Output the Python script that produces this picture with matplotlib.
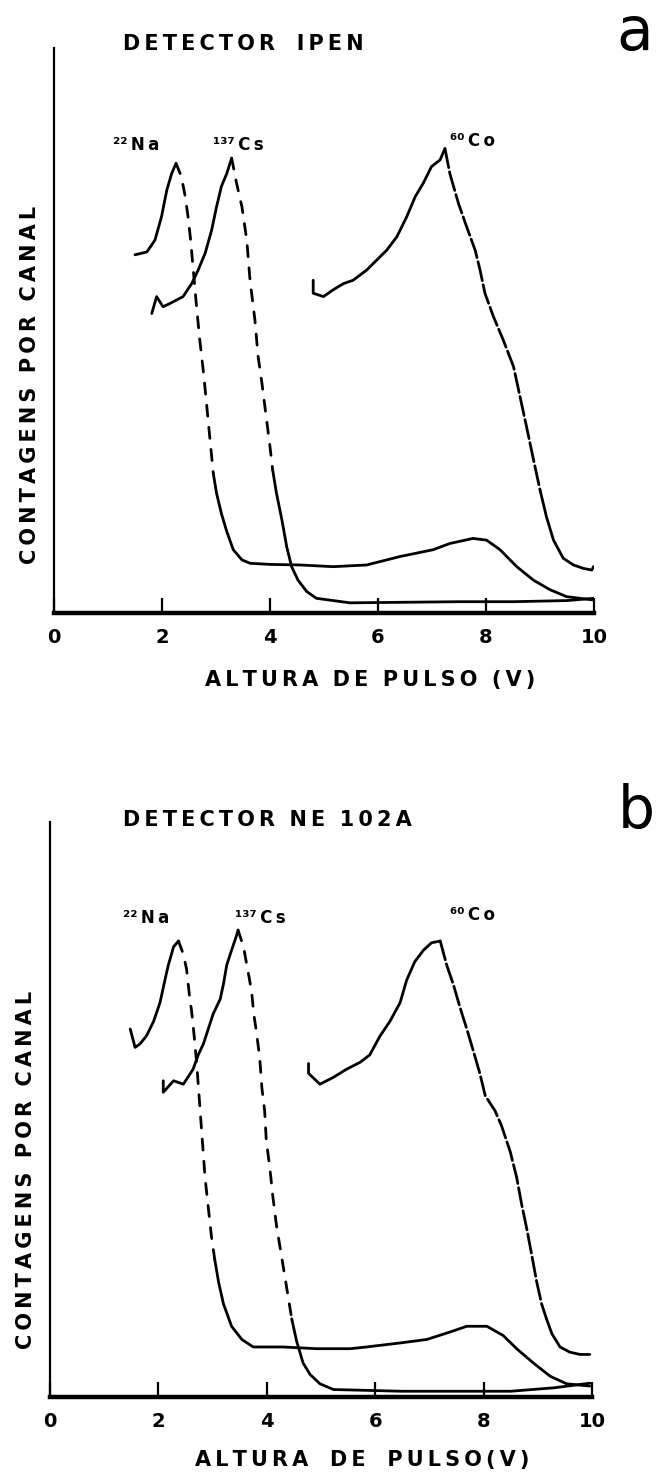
import numpy as np
import matplotlib
matplotlib.use('Agg')
import matplotlib.pyplot as plt

# ---- panel a : DETECTOR IPEN ----
na_a_x = [1.50, 1.72, 1.87, 1.99, 2.09, 2.18, 2.26, 2.36, 2.43, 2.49, 2.53, 2.64, 2.70, 2.77, 2.83,
          2.89, 2.95, 3.01, 3.10, 3.20, 3.32, 3.48, 3.63, 4.00, 4.56, 5.17, 5.79, 6.41, 7.02, 7.33,
          7.76, 8.01, 8.26, 8.57, 8.88, 9.19, 9.49, 9.99]
na_a_y = [63.4, 63.9, 66.0, 70.1, 74.9, 77.8, 79.6, 77.2, 73.7, 69.6, 66.0, 54.2, 48.3, 42.4, 36.5,
          30.6, 24.7, 21.2, 17.6, 14.4, 11.2, 9.4, 8.8, 8.6, 8.5, 8.2, 8.5, 10.0, 11.2, 12.3,
          13.2, 12.9, 11.2, 8.2, 5.8, 4.1, 2.9, 2.3]

cs_a_x = [1.81, 1.90, 2.02, 2.15, 2.27, 2.39, 2.55, 2.67, 2.80, 2.92, 3.01, 3.10, 3.20, 3.29, 3.38,
          3.48, 3.57, 3.63, 3.72, 3.78, 3.85, 3.93, 4.00, 4.05, 4.12, 4.22, 4.31, 4.40, 4.52, 4.68,
          4.86, 5.48, 6.5, 7.5, 8.5, 9.5, 9.99]
cs_a_y = [53.0, 56.0, 54.2, 54.8, 55.4, 56.0, 58.3, 60.7, 63.7, 67.8, 71.9, 75.5, 77.8, 80.5, 76.1,
          71.9, 66.0, 58.9, 51.9, 45.4, 40.7, 34.7, 29.4, 25.3, 21.2, 16.5, 11.7, 8.2, 5.8, 3.8,
          2.6, 1.8, 1.9, 2.0, 2.0, 2.2, 2.6]

co_a_x = [4.80, 4.80, 4.99, 5.17, 5.36, 5.54, 5.79, 5.98, 6.16, 6.35, 6.53, 6.69, 6.84, 6.99, 7.15,
          7.24, 7.33, 7.49, 7.64, 7.80, 7.89, 7.98, 8.14, 8.32, 8.51, 8.63, 8.75, 8.88, 9.00, 9.12,
          9.25, 9.43, 9.62, 9.80, 9.96, 9.99]
co_a_y = [58.9, 56.6, 56.0, 57.2, 58.3, 58.9, 60.7, 62.5, 64.2, 66.6, 70.1, 73.7, 76.1, 79.0, 80.2,
          82.2, 77.8, 72.5, 68.4, 64.2, 60.7, 56.6, 52.4, 48.3, 43.6, 38.3, 33.0, 27.1, 21.8, 17.0,
          12.9, 9.7, 8.5, 7.9, 7.6, 8.2]

# ---- panel b : DETECTOR NE102A ----
na_b_x = [1.48, 1.57, 1.66, 1.78, 1.91, 2.03, 2.12, 2.18, 2.28, 2.37, 2.46, 2.52, 2.58, 2.61, 2.66,
          2.71, 2.74, 2.77, 2.81, 2.86, 2.92, 2.98, 3.04, 3.11, 3.20, 3.35, 3.54, 3.75, 4.30, 4.92,
          5.54, 5.84, 6.46, 6.95, 7.38, 7.69, 8.06, 8.36, 8.61, 8.92, 9.23, 9.53, 9.96]
na_b_y = [64.0, 60.8, 61.4, 62.8, 65.3, 68.6, 72.5, 75.0, 78.3, 79.3, 77.0, 74.4, 69.2, 67.3, 62.8,
          57.6, 53.7, 49.8, 44.7, 38.2, 33.0, 27.8, 23.9, 20.0, 16.2, 12.3, 10.0, 8.7, 8.7, 8.4,
          8.4, 8.7, 9.4, 10.0, 11.3, 12.3, 12.3, 10.7, 8.4, 5.9, 3.6, 2.3, 1.9]

cs_b_x = [2.09, 2.09, 2.28, 2.46, 2.64, 2.74, 2.83, 2.92, 3.01, 3.14, 3.20, 3.26, 3.35, 3.44, 3.47,
          3.57, 3.66, 3.72, 3.76, 3.81, 3.87, 3.91, 3.96, 3.99, 4.06, 4.11, 4.18, 4.27, 4.37, 4.46,
          4.55, 4.67, 4.80, 4.98, 5.23, 6.5, 7.5, 8.5, 9.3, 9.96]
cs_b_y = [55.0, 53.0, 55.0, 54.4, 57.0, 59.6, 61.4, 64.0, 66.6, 69.2, 71.8, 75.1, 77.7, 80.2, 81.2,
          78.3, 73.7, 70.5, 66.6, 63.4, 58.9, 53.7, 49.8, 44.7, 39.5, 35.0, 29.7, 24.6, 18.8, 13.6,
          9.7, 5.9, 3.9, 2.3, 1.3, 1.0, 1.0, 1.0, 1.6, 2.4]

co_b_x = [4.77, 4.77, 4.98, 5.23, 5.47, 5.72, 5.90, 6.09, 6.27, 6.46, 6.58, 6.73, 6.89, 7.04, 7.20,
          7.32, 7.44, 7.56, 7.69, 7.81, 7.93, 8.03, 8.21, 8.33, 8.49, 8.61, 8.70, 8.80, 8.89, 8.98,
          9.07, 9.16, 9.26, 9.41, 9.59, 9.78, 9.96]
co_b_y = [58.0, 56.3, 54.4, 55.6, 57.0, 58.2, 59.5, 62.8, 65.3, 68.6, 72.5, 75.7, 77.7, 79.0, 79.3,
          75.1, 71.8, 67.9, 64.0, 60.2, 56.3, 52.4, 49.8, 47.2, 42.7, 38.2, 33.6, 29.1, 24.6, 20.0,
          16.2, 13.6, 11.0, 8.7, 7.8, 7.4, 7.4]

x_ticks = [0, 2, 4, 6, 8, 10]
x_tick_labels = ['0', '2', '4', '6', '8', '10']
source_mass = ['²²', '¹³⁷', '⁶⁰']
source_elem = ['Na', 'Cs', 'Co']

FONT = dict(family='DejaVu Sans', fontweight='bold', color='black')
THIN = '\u2009'


def spaced(s, word_gap='   '):
    # the hand lettering is widely spaced: thin space between letters, wide gap between words
    words = s.split(' ')
    return word_gap.join(THIN.join(w) for w in words)


def draw_trace(ax, xs, ys, lo, hi, dash):
    """solid recorder trace, with the fast (steep) part drawn broken"""
    xs = np.asarray(xs)
    ys = np.asarray(ys)
    i0 = int(np.argmax(xs >= lo))
    i1 = int(np.argmax(xs >= hi))
    kw = dict(color='black', lw=2.0, solid_capstyle='round', dash_capstyle='round')
    ax.plot(xs[:i0 + 1], ys[:i0 + 1], **kw)
    ax.plot(xs[i0:i1 + 1], ys[i0:i1 + 1], dashes=dash, **kw)
    ax.plot(xs[i1:], ys[i1:], **kw)


def style_axes(ax):
    ax.set_xlim(0, 10)
    ax.set_ylim(0, 100)
    for s in ['top', 'right']:
        ax.spines[s].set_visible(False)
    ax.spines['left'].set_linewidth(1.6)
    ax.spines['bottom'].set_linewidth(3.2)
    ax.spines['left'].set_capstyle('projecting')
    ax.set_xticks(x_ticks)
    ax.set_xticklabels(x_tick_labels)
    ax.tick_params(axis='x', direction='in', length=11, width=1.6, pad=11,
                   labelsize=14)
    for lab in ax.get_xticklabels():
        lab.set_fontweight('bold')
    ax.set_yticks([])
    ax.patch.set_alpha(0)


fig = plt.figure(figsize=(6.57, 14.78), dpi=100)

ax_a = fig.add_axes([54 / 657, 1 - 613 / 1478, 540 / 657, 565 / 1478])
ax_b = fig.add_axes([50 / 657, 1 - 1397 / 1478, 542 / 657, 575 / 1478])

draw_trace(ax_a, na_a_x, na_a_y, 2.26, 2.95, (4, 4))
draw_trace(ax_a, cs_a_x, cs_a_y, 3.29, 4.05, (4, 4))
draw_trace(ax_a, co_a_x, co_a_y, 7.24, 9.0, (7, 1.5))

draw_trace(ax_b, na_b_x, na_b_y, 2.37, 3.04, (4, 4))
draw_trace(ax_b, cs_b_x, cs_b_y, 3.47, 4.46, (4, 4))
draw_trace(ax_b, co_b_x, co_b_y, 7.2, 9.1, (7, 1.5))

for ax in (ax_a, ax_b):
    style_axes(ax)

# peak labels (isotope mass as superscript, element letters spaced)
pos_a = [(1.09, 82.8), (2.94, 82.8), (7.33, 83.5)]
pos_b = [(1.35, 83.3), (3.41, 83.3), (7.38, 83.8)]
for ax, pos in ((ax_a, pos_a), (ax_b, pos_b)):
    for (xl, yl), m, el in zip(pos, source_mass, source_elem):
        ax.text(xl, yl, m + THIN + THIN.join(el), fontsize=12, va='center', ha='left', **FONT)

# titles, axis labels, panel letters
fig.text(123 / 657, 1 - 44 / 1478, spaced('DETECTOR IPEN'), fontsize=15,
         va='center', ha='left', **FONT)
fig.text(123 / 657, 1 - 820 / 1478, spaced('DETECTOR NE 102A', '  '), fontsize=15,
         va='center', ha='left', **FONT)

fig.text(370 / 657, 1 - 680 / 1478, spaced('ALTURA DE PULSO (V)', '  '), fontsize=15,
         va='center', ha='center', **FONT)
fig.text(362 / 657, 1 - 1460 / 1478, spaced('ALTURA DE PULSO(V)', '   '), fontsize=15,
         va='center', ha='center', **FONT)

fig.text(30 / 657, 1 - 385 / 1478, spaced('CONTAGENS POR CANAL', '  '), fontsize=15, rotation=90,
         va='center', ha='center', **FONT)
fig.text(26 / 657, 1 - 1170 / 1478, spaced('CONTAGENS POR CANAL', '  '), fontsize=15, rotation=90,
         va='center', ha='center', **FONT)

fig.text(616 / 657, 1 - 50 / 1478, 'a', fontsize=43, va='baseline', ha='left',
         family='DejaVu Sans', color='black')
fig.text(655 / 657, 1 - 828 / 1478, 'b', fontsize=42, va='baseline', ha='right',
         family='DejaVu Sans', color='black')

fig.savefig('out.png', dpi=100, facecolor='white')
